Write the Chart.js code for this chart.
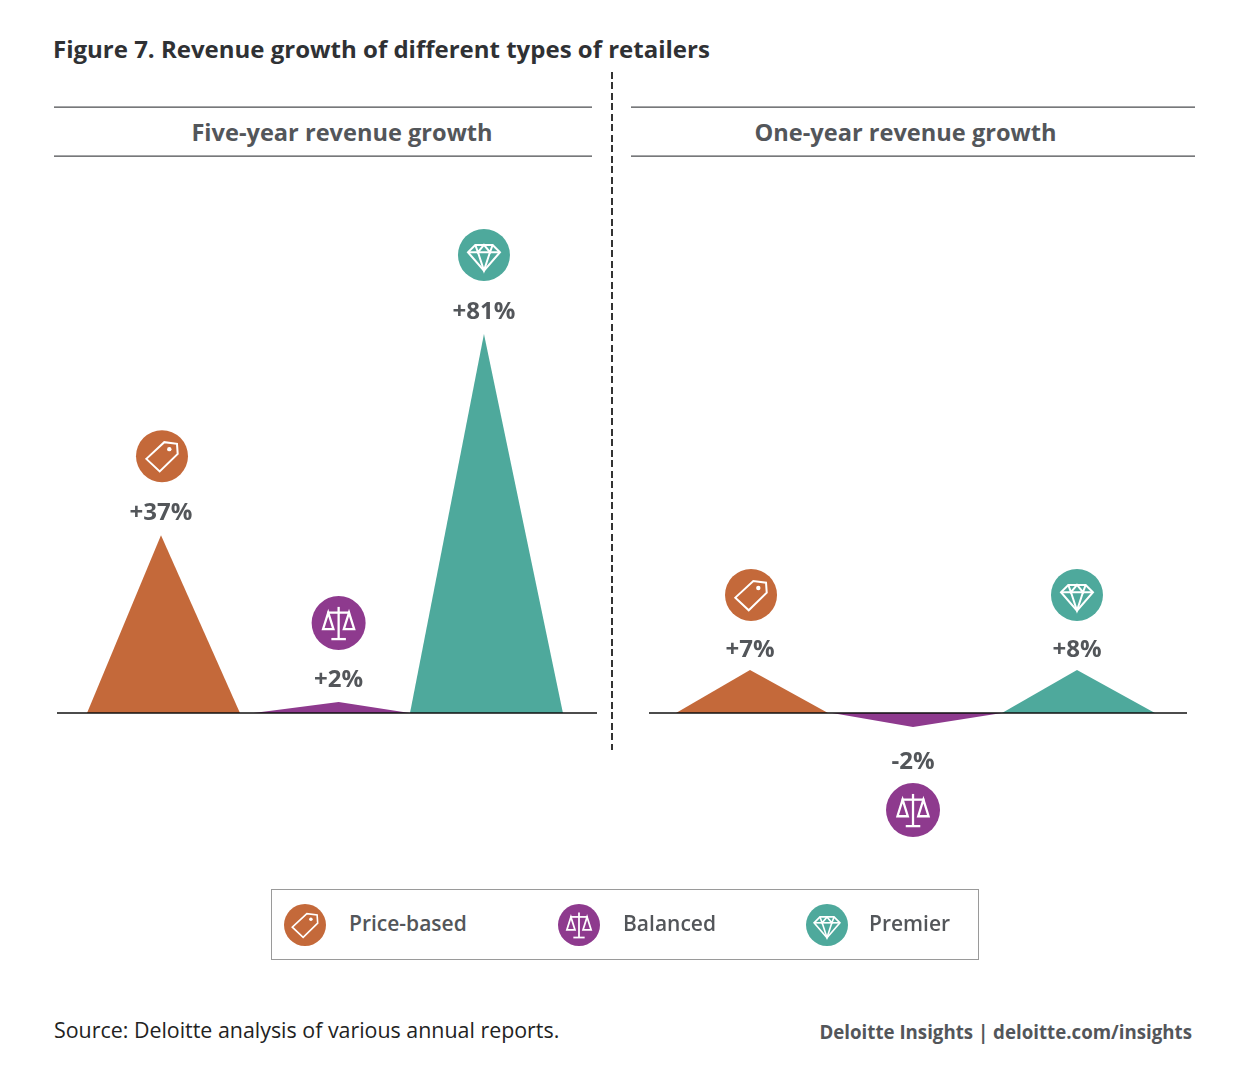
<!DOCTYPE html>
<html>
<head>
<meta charset="utf-8">
<title>Figure 7</title>
<script src="https://cdn.jsdelivr.net/npm/chart.js"></script>
<style>
  html, body { margin: 0; padding: 0; background: #fff; }
  body { position: relative; width: 1244px; height: 1074px; overflow: hidden; font-family: "Open Sans", sans-serif; color: #53565a; }
  .txt { position: absolute; white-space: nowrap; line-height: 1; }
  .rule { position: absolute; height: 1px; background: #77787a; border-top: 0.5px solid #a5a6a8; }
  canvas.plot, canvas.key { position: absolute; }
  #divider { position: absolute; left: 611px; top: 72px; width: 1.6px; height: 678px;
    background: repeating-linear-gradient(to bottom, #333 0, #333 7px, transparent 7px, transparent 10.5px); }
  #legendBox { position: absolute; left: 271px; top: 889px; width: 706px; height: 69px; border: 1px solid #9a9a9a; }
</style>
</head>
<body>
<div class="txt" style="left:53px;top:37px;font-size:24px;font-weight:700;color:#2f3134">Figure 7. Revenue growth of different types of retailers</div>
<div class="rule" style="left:54px;top:106px;width:538px"></div>
<div class="rule" style="left:54px;top:155px;width:538px"></div>
<div class="rule" style="left:631px;top:106px;width:564px"></div>
<div class="rule" style="left:631px;top:155px;width:564px"></div>
<div class="txt" style="left:54px;width:576px;top:121px;text-align:center;font-size:23.6px;font-weight:700">Five-year revenue growth</div>
<div class="txt" style="left:631px;width:549px;top:121px;text-align:center;font-size:23.6px;font-weight:700">One-year revenue growth</div>
<div id="divider"></div>

<canvas class="plot" id="fiveYearChart" style="left:57px;top:170px;width:540px;height:692px"></canvas>
<canvas class="plot" id="oneYearChart" style="left:649px;top:170px;width:538px;height:692px"></canvas>

<div id="legendBox"></div>
<canvas class="key" id="key0" width="50" height="50" style="left:280px;top:900px"></canvas>
<canvas class="key" id="key1" width="50" height="50" style="left:554px;top:900px"></canvas>
<canvas class="key" id="key2" width="50" height="50" style="left:802px;top:900px"></canvas>
<div class="txt" id="legend0" style="left:349px;top:913px;font-size:21px;font-weight:600"></div>
<div class="txt" id="legend1" style="left:623px;top:913px;font-size:21px;font-weight:600"></div>
<div class="txt" id="legend2" style="left:869px;top:913px;font-size:21px;font-weight:600"></div>

<div class="txt" style="left:54px;top:1019px;font-size:21.4px;color:#222">Source: Deloitte analysis of various annual reports.</div>
<div class="txt" style="right:52px;top:1023px;font-size:18.7px;font-weight:700">Deloitte Insights | deloitte.com/insights</div>

<script>
// data
const categories = ['Price-based', 'Balanced', 'Premier'];
const fiveYearLabels = ['+37%', '+2%', '+81%'];
const oneYearLabels = ['+7%', '-2%', '+8%'];
// height of each peak as drawn in the original (it is not quite to scale)
const fiveYearPeaks = [38, 2.35, 81];
const oneYearPeaks = [9.2, -3, 9.2];

const categoryColors = ['#c4693a', '#8e3a8e', '#4ea99c'];
const iconKinds = ['tag', 'scale', 'gem'];
const iconRadius = [26, 27, 26];
const iconShift = [1, 0, 0];

// layout of the two panels
const fiveYearLayout = {
  slots: [0, 1.1, 2],
  footBefore: [0.458, 0.526, 0.458],
  footAfter: [0.489, 0.44, 0.489],
  xMin: -0.644, xMax: 2.7,
  labelGap: 22, iconGap: 79
};
const oneYearLayout = {
  slots: [0, 0.997, 2.0],
  footBefore: [0.453, 0.495, 0.459],
  footAfter: [0.477, 0.544, 0.477],
  xMin: -0.618, xMax: 2.673,
  labelGap: 20, iconGap: 75
};
const belowLabelGap = 35;
const belowIconGap = 83;
const yMax = 116.03;
const yMin = -31.84;

// white line icons, drawn around the centre of a coloured disc
function drawIcon(ctx, kind, cx, cy, r, color) {
  ctx.save();
  ctx.translate(cx, cy);
  ctx.beginPath();
  ctx.arc(0, 0, r, 0, Math.PI * 2);
  ctx.fillStyle = color;
  ctx.fill();

  const s = r / 26;
  ctx.scale(s, s);
  ctx.strokeStyle = '#fff';
  ctx.fillStyle = '#fff';
  ctx.lineWidth = 2;
  ctx.lineJoin = 'miter';

  function poly(points, close) {
    ctx.beginPath();
    points.forEach((p, i) => i ? ctx.lineTo(p[0], p[1]) : ctx.moveTo(p[0], p[1]));
    if (close) ctx.closePath();
    ctx.stroke();
  }

  if (kind === 'tag') {
    poly([[-15.7, 2.7], [2.3, -14], [15, -12.3], [15.7, -2.3], [-2.3, 15.3]], true);
    ctx.beginPath();
    ctx.arc(7.3, -7, 2.2, 0, Math.PI * 2);
    ctx.fill();
  } else if (kind === 'scale') {
    ctx.lineWidth = 2.2;
    poly([[0, -15.5], [0, 15.5]]);
    poly([[-7, 15.5], [7, 15.5]]);
    poly([[-11, -10], [11, -10]]);
    poly([[-10, -10], [-15, 6], [-5, 6]], true);
    poly([[10, -10], [15, 6], [5, 6]], true);
  } else {
    poly([[-8.7, -10], [8.7, -10], [16, -2.7], [0, 15.7], [-16, -2.7]], true);
    poly([[-16, -2.7], [16, -2.7]]);
    poly([[-8.7, -10], [-6, -2.7], [0, -10], [6, -2.7], [8.7, -10]]);
    poly([[-6, -2.7], [0, 15.7], [6, -2.7]]);
  }
  ctx.restore();
}

// value label and icon above (or below) every peak
const peakMarks = {
  id: 'peakMarks',
  afterDatasetsDraw(chart, args, opts) {
    const ctx = chart.ctx;
    const layout = opts.layout;
    opts.peaks.forEach((peak, i) => {
      const x = chart.scales.x.getPixelForValue(layout.slots[i]);
      const y = chart.scales.y.getPixelForValue(peak);
      const up = peak >= 0;
      const labelY = up ? y - layout.labelGap : y + belowLabelGap;
      const iconY = up ? y - layout.iconGap : y + belowIconGap;
      ctx.save();
      ctx.font = '700 24px "Open Sans"';
      ctx.fillStyle = '#53565a';
      ctx.textAlign = 'center';
      ctx.textBaseline = 'middle';
      ctx.fillText(opts.labels[i], x, labelY);
      ctx.restore();
      drawIcon(ctx, iconKinds[i], x + iconShift[i], iconY, iconRadius[i], categoryColors[i]);
    });
  }
};

function makePanel(canvasId, peaks, labels, layout) {
  const datasets = [{
    label: 'baseline',
    data: [{ x: layout.xMin, y: 0 }, { x: layout.xMax, y: 0 }],
    showLine: true,
    borderColor: '#111',
    borderWidth: 1.5,
    pointRadius: 0
  }];
  categories.forEach((name, i) => {
    const slot = layout.slots[i];
    datasets.push({
      label: name,
      data: [
        { x: slot - layout.footBefore[i], y: 0 },
        { x: slot, y: peaks[i] },
        { x: slot + layout.footAfter[i], y: 0 }
      ],
      showLine: true,
      fill: 'origin',
      backgroundColor: categoryColors[i],
      borderWidth: 0,
      pointRadius: 0,
      tension: 0
    });
  });

  new Chart(document.getElementById(canvasId), {
    type: 'scatter',
    data: { datasets: datasets },
    plugins: [peakMarks],
    options: {
      responsive: false,
      animation: false,
      layout: { padding: 0 },
      plugins: {
        legend: { display: false },
        tooltip: { enabled: false },
        peakMarks: { peaks: peaks, labels: labels, layout: layout }
      },
      scales: {
        x: { type: 'linear', display: false, min: layout.xMin, max: layout.xMax },
        y: { type: 'linear', display: false, min: yMin, max: yMax }
      }
    }
  });
}

document.fonts.load('700 24px "Open Sans"').finally(function() {
  makePanel('fiveYearChart', fiveYearPeaks, fiveYearLabels, fiveYearLayout);
  makePanel('oneYearChart', oneYearPeaks, oneYearLabels, oneYearLayout);

  // legend
  categories.forEach((name, i) => {
    document.getElementById('legend' + i).textContent = name;
    const ctx = document.getElementById('key' + i).getContext('2d');
    drawIcon(ctx, iconKinds[i], 25, 25, 21, categoryColors[i]);
  });
});
</script>
</body>
</html>
